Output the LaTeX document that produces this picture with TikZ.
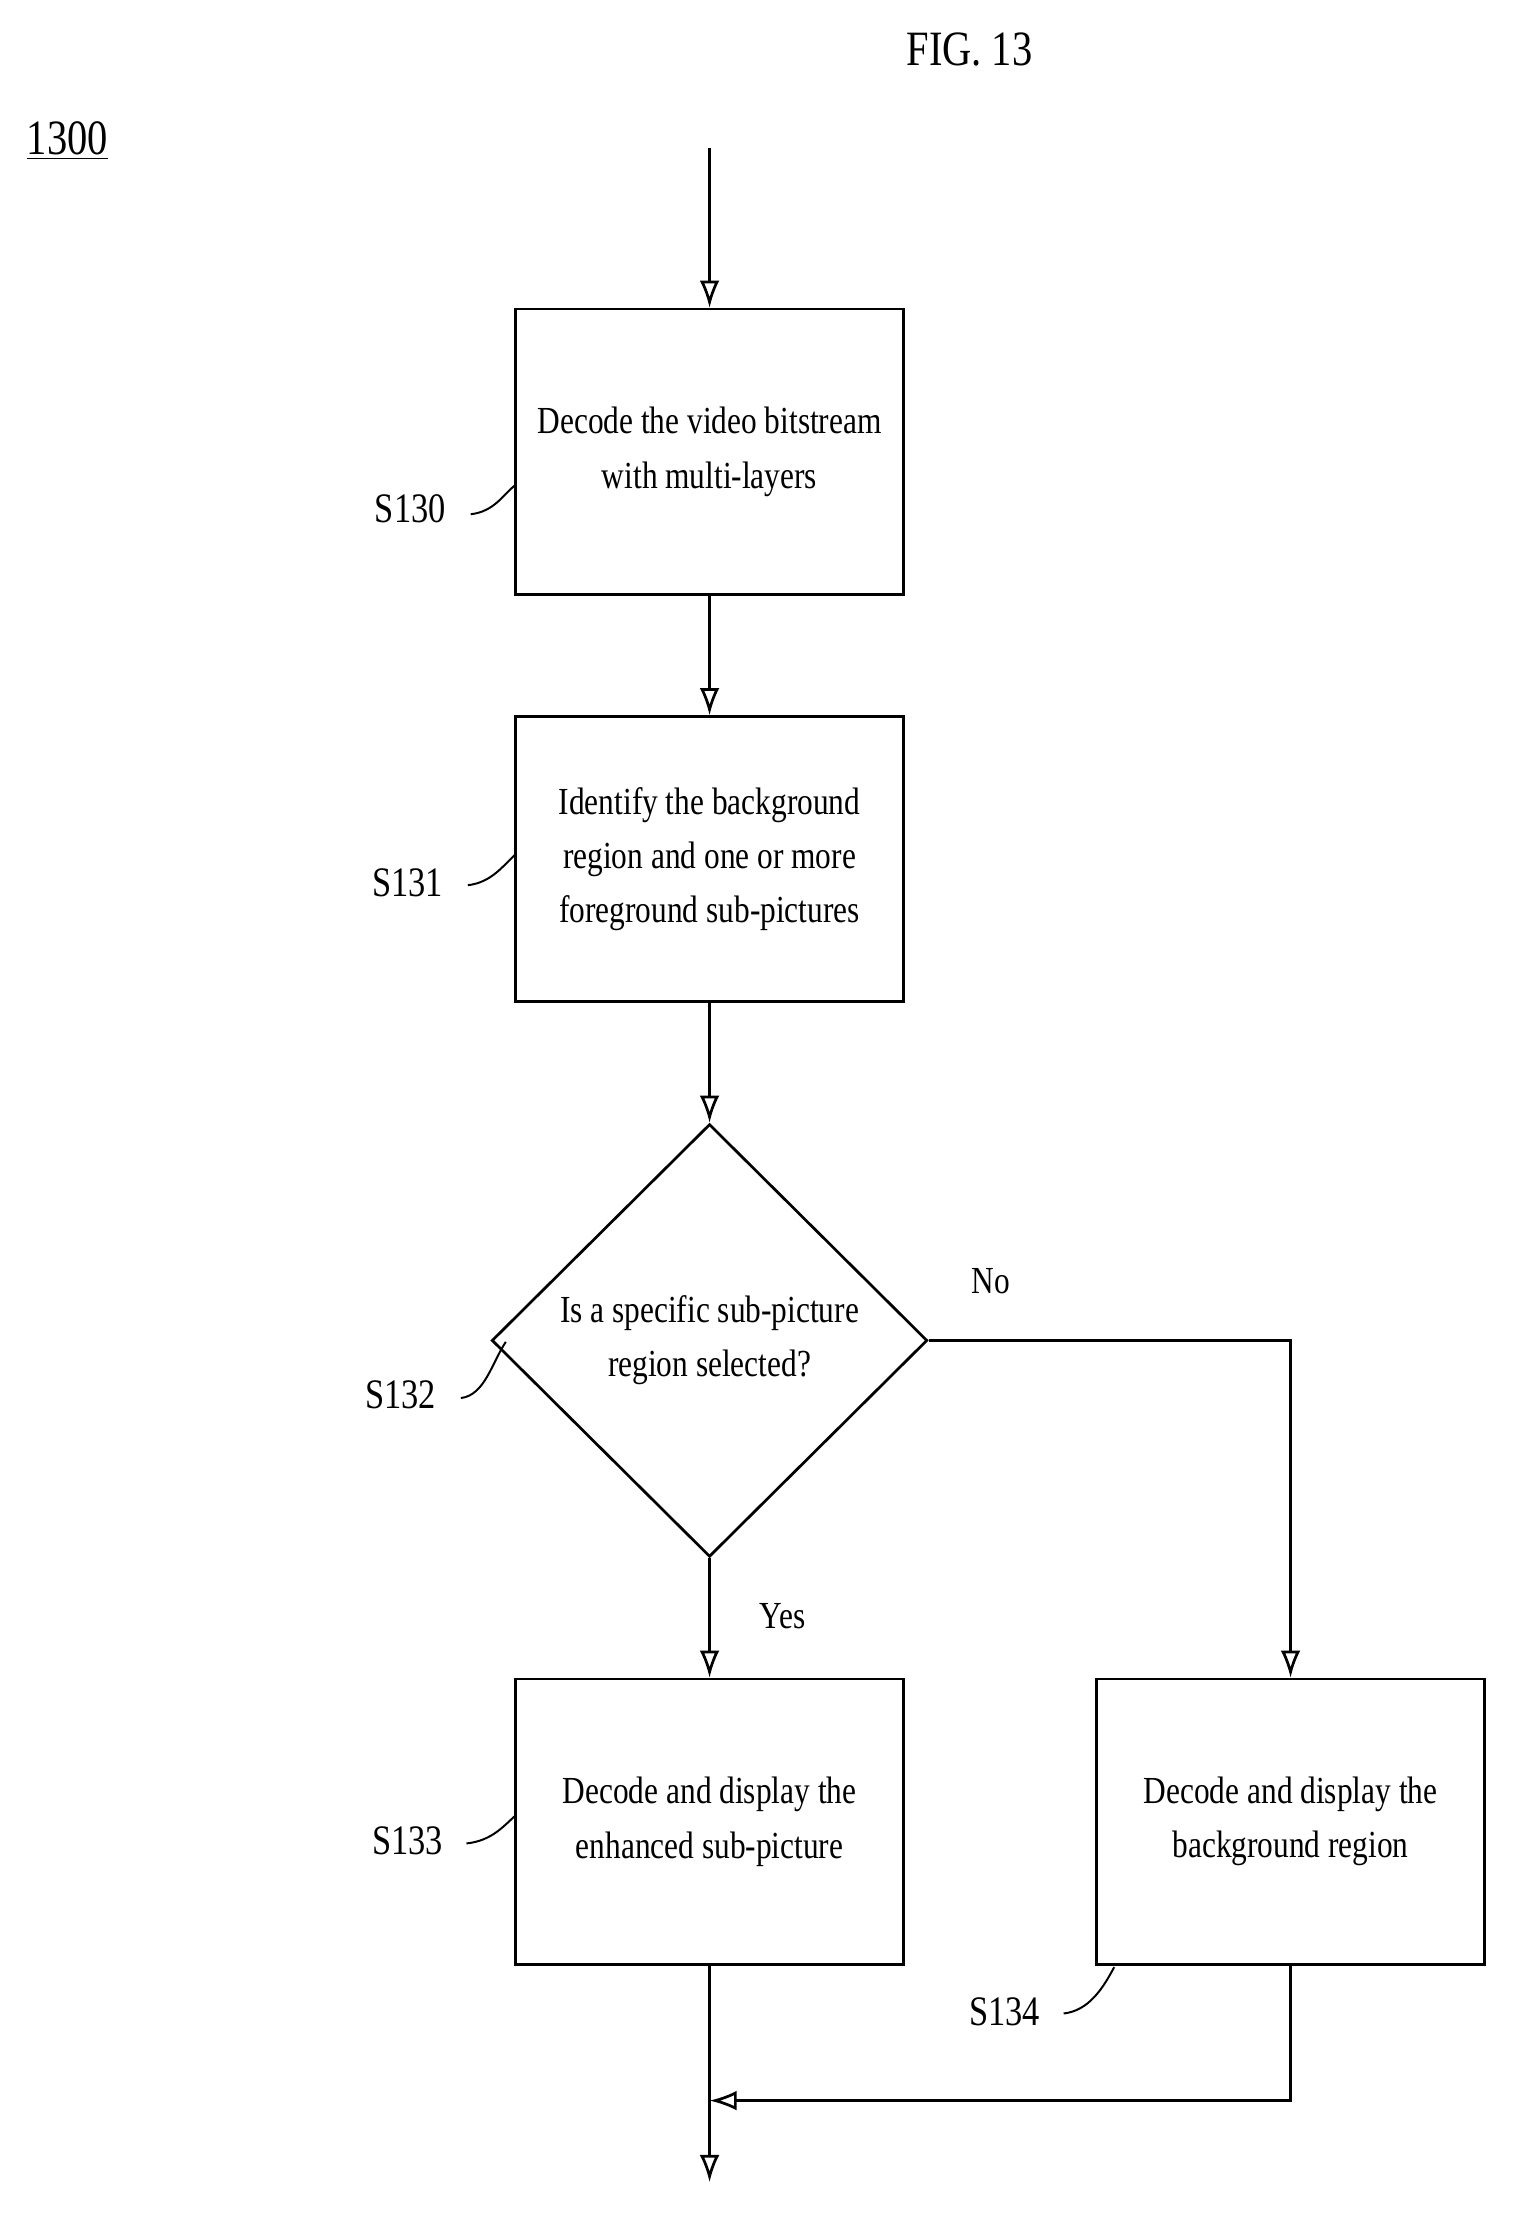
\documentclass[tikz,border=0pt]{standalone}
\usepackage{fontspec}
\setmainfont{Liberation Serif}[FakeStretch=0.82]
\usetikzlibrary{arrows.meta,shapes.geometric}
\begin{document}
\begin{tikzpicture}[x=0.02cm,y=-0.02cm,
  every node/.style={font=\fontsize{15.5}{22}\selectfont},
  box/.style={draw,line width=1.1pt,minimum width=276*0.02cm,minimum height=203*0.02cm,align=center,inner sep=0pt},
  dia/.style={draw,line width=1.1pt,diamond,minimum width=310*0.02cm,minimum height=308*0.02cm,align=center,inner sep=0pt},
  con/.style={line width=1.1pt,-{Latex[open,length=11pt,width=8pt]}},
  lead/.style={line width=0.8pt},
  lbl/.style={font=\fontsize{17}{20}\selectfont}]
\useasboundingbox (0,0) rectangle (1080,1580);
\node[font=\fontsize{20}{24}\selectfont] (fig) at (690,35) {FIG. 13};
\node[font=\fontsize{20}{24}\selectfont] (num) at (48,100) {\underline{1300}};
\coordinate (start) at (505,105);
\node[box] (s130) at (505,321.5) {Decode the video bitstream\\with multi-layers};
\node[box] (s131) at (505,611.5) {Identify the background\\region and one or more\\foreground sub-pictures};
\node[dia] (s132) at (505,954) {Is a specific sub-picture\\region selected?};
\node[box] (s133) at (505,1296.5) {Decode and display the\\enhanced sub-picture};
\node[box] (s134) at (918.5,1296.5) {Decode and display the\\background region};
\coordinate (end) at (505,1553);
\coordinate (corner) at (918.5,1495);
\coordinate (join) at (505,1495);
\draw[con] (start) -- (s130.north);
\draw[con] (s130) -- (s131);
\draw[con] (s131.south) -- (s132.north);
\draw[con] (s132.south) -- (s133.north);
\draw[con] (s132.east) -| (s134.north);
\draw[con] (s133.south) -- (end);
\draw[con] (s134.south) -- (corner) -- (join);
\node (no) at (705,912) {No};
\node (yes) at (557,1150) {Yes};
\node[lbl] (l130) at (292,362) {S130};
\node[lbl] (l131) at (290,628) {S131};
\node[lbl] (l132) at (285,993) {S132};
\node[lbl] (l133) at (290,1310) {S133};
\node[lbl] (l134) at (715,1432) {S134};
\draw[lead] (335,366) .. controls (352,364) and (358,352) .. (367,345);
\draw[lead] (333,630) .. controls (350,628) and (358,616) .. (367,608);
\draw[lead] (328,995) .. controls (345,993) and (350,970) .. (360,955);
\draw[lead] (332,1312) .. controls (350,1310) and (358,1300) .. (367,1292);
\draw[lead] (757,1433) .. controls (775,1431) and (785,1415) .. (793,1400);
\end{tikzpicture}
\end{document}
